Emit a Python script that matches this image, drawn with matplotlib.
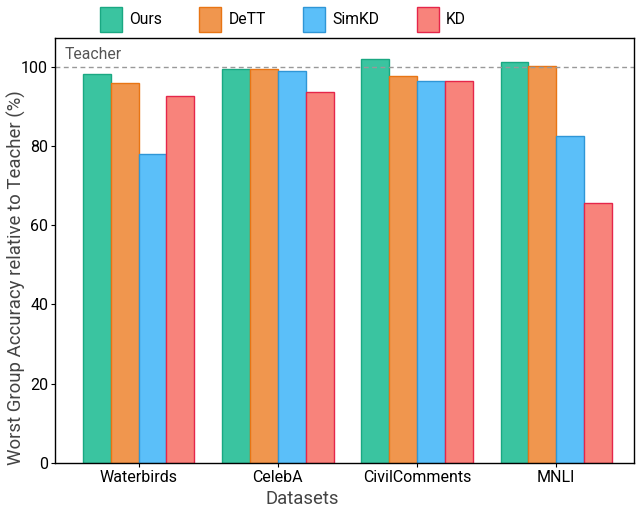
import numpy as np
import matplotlib.pyplot as plt
from matplotlib.patches import Patch

plt.rcParams['font.family'] = ['Roboto', 'DejaVu Sans']

datasets = ['Waterbirds', 'CelebA', 'CivilComments', 'MNLI']
methods = ['Ours', 'DeTT', 'SimKD', 'KD']
ours = [98.2, 99.4, 101.9, 101.3]
dett = [95.8, 99.4, 97.6, 100.3]
simkd = [78.0, 98.9, 96.3, 82.5]
kd = [92.7, 93.7, 96.3, 65.5]
teacher = 100

face_colors = ['#3ac4a0', '#f0964e', '#5bbff9', '#f8837b']
edge_colors = ['#1aa882', '#e87514', '#2f96d6', '#e5264a']

fig, ax = plt.subplots(figsize=(6.4, 5.11), dpi=100)
fig.subplots_adjust(left=0.086, right=0.991, top=0.926, bottom=0.094)

x = np.arange(len(datasets))
w = 0.2
for i, vals in enumerate([ours, dett, simkd, kd]):
    ax.bar(x + (i - 1.5) * w, vals, w, color=face_colors[i],
           edgecolor=edge_colors[i], linewidth=1.0)

# teacher reference line
ax.axhline(teacher, color='#999999', linestyle='--', linewidth=1.0, dashes=(3.5, 2.5))
ax.text(-0.53, teacher + 1.3, 'Teacher', color='#555555', fontsize=11.3, va='bottom')

ax.set_xlim(-0.6, 3.56)
ax.set_ylim(0, 107.3)
ax.set_yticks([0, 20, 40, 60, 80, 100])
ax.set_xticks(x)
ax.set_xticklabels(datasets)
ax.tick_params(axis='both', labelsize=11.5, length=3, pad=2)
ax.set_xlabel('Datasets', fontsize=13.3, color='#444444')
ax.set_ylabel('Worst Group Accuracy relative to Teacher (%)', fontsize=13.4,
              color='#444444')
# labels sit off-centre in the original
ax.xaxis.set_label_coords(0.427, -0.064)
ax.yaxis.set_label_coords(-0.05, 0.435)
for s in ax.spines.values():
    s.set_linewidth(1.0)

handles = [Patch(facecolor=face_colors[i], edgecolor=edge_colors[i])
           for i in range(4)]
fig.legend(handles, methods, loc='upper center', bbox_to_anchor=(0.442, 1.005),
           ncol=4, frameon=False, fontsize=11.3, handlelength=1.4, handleheight=2.1,
           columnspacing=2.4, handletextpad=0.45, borderaxespad=0.2)

plt.savefig('out.png', dpi=100)
